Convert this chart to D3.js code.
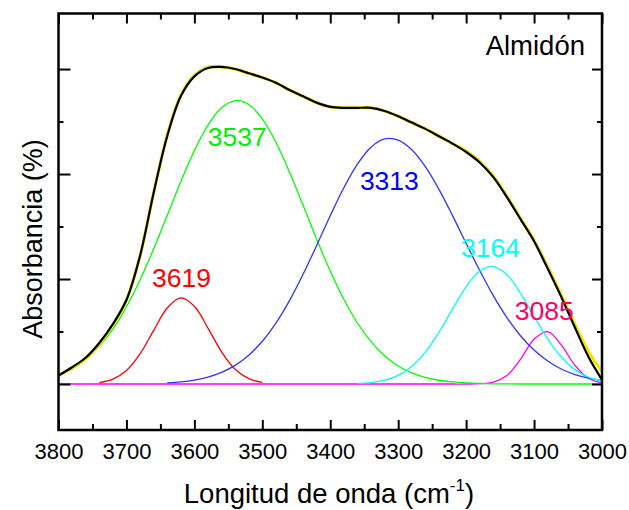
<!DOCTYPE html>
<html>
<head>
<meta charset="utf-8">
<script src="https://cdn.jsdelivr.net/npm/d3@7"></script>
<style>
  body { margin: 0; background: #fff; }
  text { font-family: "Liberation Sans", Arial, sans-serif; }
</style>
</head>
<body>
<div id="chart"></div>
<script>
// wavenumber grid (cm-1), read every 20
var waveNumbers = [3800, 3780, 3760, 3740, 3720, 3700, 3680, 3660, 3640, 3620, 3600,
                   3580, 3560, 3540, 3520, 3500, 3480, 3460, 3440, 3420, 3400,
                   3380, 3360, 3340, 3320, 3300, 3280, 3260, 3240, 3220, 3200,
                   3180, 3160, 3140, 3120, 3100, 3080, 3060, 3040, 3020, 3000];

// measured spectrum (black)
var measured = [0.008, 0.016, 0.025, 0.039, 0.057, 0.080, 0.122, 0.182, 0.236, 0.274, 0.293,
                0.301, 0.302, 0.300, 0.296, 0.292, 0.287, 0.280, 0.274, 0.268, 0.264,
                0.263, 0.263, 0.263, 0.260, 0.255, 0.249, 0.243, 0.236, 0.229, 0.221,
                0.211, 0.197, 0.178, 0.157, 0.136, 0.110, 0.083, 0.054, 0.026, 0.004];

// fitted envelope (yellow)
var fitted = [0.009, 0.015, 0.024, 0.038, 0.056, 0.080, 0.122, 0.182, 0.237, 0.275, 0.294,
              0.302, 0.302, 0.300, 0.296, 0.292, 0.287, 0.280, 0.274, 0.268, 0.264,
              0.263, 0.263, 0.263, 0.260, 0.255, 0.249, 0.243, 0.236, 0.229, 0.222,
              0.212, 0.198, 0.179, 0.158, 0.137, 0.112, 0.085, 0.057, 0.031, 0.012];

// deconvoluted bands
var band3619 = [null, null, null, 0.0013, 0.0046, 0.0128, 0.0286, 0.0509, 0.0724, 0.0820, 0.0740,
                0.0533, 0.0306, 0.0140, 0.0051, 0.0015, null, null, null, null, null,
                null, null, null, null, null, null, null, null, null, null,
                null, null, null, null, null, null, null, null, null, null];
var band3537 = [0.0091, 0.0149, 0.0236, 0.0358, 0.0523, 0.0734, 0.0991, 0.1286, 0.1605, 0.1926, 0.2223,
                0.2466, 0.2631, 0.2700, 0.2662, 0.2525, 0.2303, 0.2019, 0.1702, 0.1380, 0.1076,
                0.0807, 0.0581, 0.0403, 0.0269, 0.0172, 0.0106, 0.0063, 0.0036, 0.0020, 0.0010,
                0.0005, 0.0002, 0.0001, 0, 0, 0, 0, 0, 0, 0];
var band3313 = [null, null, null, null, null, null, null, null, 0.0011, 0.0021, 0.0038,
                0.0066, 0.0111, 0.0178, 0.0275, 0.0407, 0.0580, 0.0794, 0.1045, 0.1320, 0.1603,
                0.1869, 0.2095, 0.2256, 0.2334, 0.2323, 0.2231, 0.2070, 0.1854, 0.1604, 0.1340,
                0.1081, 0.0842, 0.0633, 0.0460, 0.0323, 0.0219, 0.0143, 0.0090, 0.0055, 0.0032];
var band3164 = [null, null, null, null, null, null, null, null, null, null, null,
                null, null, null, null, null, null, null, null, null, null,
                null, 0.0005, 0.0014, 0.0036, 0.0083, 0.0167, 0.0303, 0.0492, 0.0713, 0.0926,
                0.1076, 0.1119, 0.1041, 0.0866, 0.0645, 0.0430, 0.0257, 0.0137, 0.0065, 0.0028];
var band3085 = [0, 0, 0, 0, 0, 0, 0, 0, 0, 0, 0,
                0, 0, 0, 0, 0, 0, 0, 0, 0, 0,
                0, 0, 0, 0, 0, 0, 0, 0, 0, 0,
                0.0003, 0.0019, 0.0082, 0.0234, 0.0426, 0.0498, 0.0373, 0.0179, 0.0055, 0.0011];

// band labels
var labelNames = ["3619", "3537", "3313", "3164", "3085"];
var labelPos   = [[3619, 0.092], [3537, 0.227], [3313, 0.185], [3164, 0.121], [3085, 0.061]];
var labelColors = ["#ff0000", "#00ee00", "#0000ff", "#00ffff", "#ff0066"];

var xTicksMajor = [3800, 3700, 3600, 3500, 3400, 3300, 3200, 3100, 3000];
var xTicksMinor = [3750, 3650, 3550, 3450, 3350, 3250, 3150, 3050];
var yTicksMajor = [0, 0.1, 0.2, 0.3];
var yTicksMinor = [0.05, 0.15, 0.25];

var width = 629, height = 510;
var margin = {top: 13.5, right: 27, bottom: 80, left: 58.5};

var svg = d3.select("#chart").append("svg")
    .attr("width", width)
    .attr("height", height);

var x = d3.scaleLinear().domain([3800, 3000]).range([margin.left, width - margin.right]);
var y = d3.scaleLinear().domain([-0.0438, 0.3529]).range([height - margin.bottom, margin.top]);

var line = d3.line()
    .defined(function(d) { return d[1] != null; })
    .x(function(d) { return x(d[0]); })
    .y(function(d) { return y(d[1]); })
    .curve(d3.curveCatmullRom.alpha(0.5));

function pairs(vals) { return waveNumbers.map(function(w, i) { return [w, vals[i]]; }); }

//// bands
var bands = [
  {vals: band3085, color: "#ff00ff"},
  {vals: band3537, color: "#00ff00"},
  {vals: band3619, color: "#ff0000"},
  {vals: band3313, color: "#3333ff"},
  {vals: band3164, color: "#00ffff"}
];
svg.selectAll("path.band")
  .data(bands)
  .enter().append("path")
    .attr("class", "band")
    .attr("d", function(d) { return line(pairs(d.vals)); })
    .attr("fill", "none")
    .attr("stroke", function(d) { return d.color; })
    .attr("stroke-width", 1.3);

//// fit + spectrum
svg.append("path")
    .attr("d", line(pairs(fitted)))
    .attr("fill", "none").attr("stroke", "#f0e800").attr("stroke-width", 3.2);
svg.append("path")
    .attr("d", line(pairs(measured)))
    .attr("fill", "none").attr("stroke", "#000").attr("stroke-width", 2.2);

//// band labels
svg.selectAll("text.lbl")
  .data(labelNames)
  .enter().append("text")
    .attr("class", "lbl")
    .attr("x", function(d, i) { return x(labelPos[i][0]); })
    .attr("y", function(d, i) { return y(labelPos[i][1]); })
    .attr("text-anchor", "middle")
    .attr("font-size", 26.5)
    .attr("fill", function(d, i) { return labelColors[i]; })
    .text(function(d) { return d; });

//// axes (ticks inward)
var x0 = margin.left, x1 = width - margin.right;
var y0 = height - margin.bottom, y1 = margin.top;

function drawAxis(axis, tx, ty) {
  var g = svg.append("g").attr("transform", "translate(" + tx + "," + ty + ")").call(axis);
  g.select(".domain").remove();
  g.selectAll(".tick line").attr("stroke", "#000").attr("stroke-width", 2);
  return g;
}

var bottomMajor = drawAxis(d3.axisBottom(x).tickValues(xTicksMajor).tickSize(-10).tickPadding(13).tickFormat(d3.format("d")), 0, y0);
bottomMajor.selectAll("text").attr("font-size", 22).attr("fill", "#000")
    .attr("font-family", "Liberation Sans, Arial, sans-serif");
drawAxis(d3.axisBottom(x).tickValues(xTicksMinor).tickSize(-6).tickFormat(""), 0, y0);
drawAxis(d3.axisTop(x).tickValues(xTicksMajor).tickSize(-10).tickFormat(""), 0, y1);
drawAxis(d3.axisTop(x).tickValues(xTicksMinor).tickSize(-6).tickFormat(""), 0, y1);
drawAxis(d3.axisLeft(y).tickValues(yTicksMajor).tickSize(-12).tickFormat(""), x0, 0);
drawAxis(d3.axisLeft(y).tickValues(yTicksMinor).tickSize(-5).tickFormat(""), x0, 0);
drawAxis(d3.axisRight(y).tickValues(yTicksMajor).tickSize(-10).tickFormat(""), x1, 0);
drawAxis(d3.axisRight(y).tickValues(yTicksMinor).tickSize(-5).tickFormat(""), x1, 0);

// frame
svg.append("rect")
    .attr("x", x0).attr("y", y1)
    .attr("width", x1 - x0).attr("height", y0 - y1)
    .attr("fill", "none").attr("stroke", "#000").attr("stroke-width", 2.5);

//// titles
svg.append("text")
    .attr("x", 585).attr("y", 55)
    .attr("text-anchor", "end")
    .attr("font-size", 27.5)
    .text("Almidón");

var xt = svg.append("text")
    .attr("x", 329).attr("y", 503)
    .attr("text-anchor", "middle")
    .attr("font-size", 27.5);
xt.append("tspan").text("Longitud de onda (cm");
xt.append("tspan").attr("font-size", 17).attr("dy", -12).text("-1");
xt.append("tspan").attr("dy", 12).text(")");

svg.append("text")
    .attr("transform", "translate(42,239) rotate(-90)")
    .attr("text-anchor", "middle")
    .attr("font-size", 27)
    .text("Absorbancia (%)");
</script>
</body>
</html>
